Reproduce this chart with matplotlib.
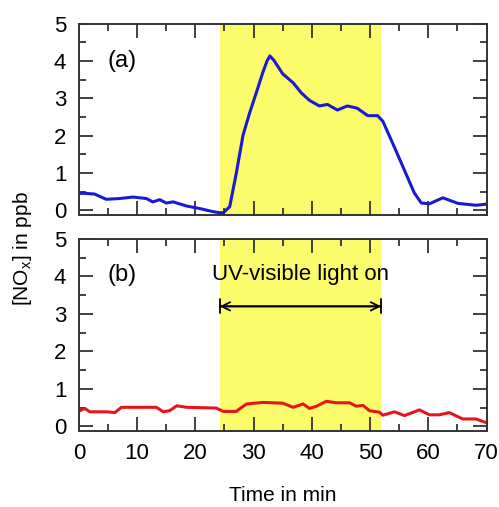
import numpy as np
import matplotlib.pyplot as plt
from matplotlib.ticker import MultipleLocator

plt.rcParams['font.family'] = ['Liberation Sans', 'DejaVu Sans']
plt.rcParams['mathtext.fontset'] = 'custom'
plt.rcParams['mathtext.rm'] = 'Liberation Sans'

# panel (a): NOx with cell
t_a = [0, 1, 2.7, 4.7, 7, 9.3, 11.6, 12.7, 13.9, 15, 16.2, 18.5, 20.8, 23, 24.2, 24.8,
       25.9, 27, 28.2, 29.3, 30.5, 31.6, 32.3, 32.8, 33.5, 35, 36.8, 38.2, 39.6, 41.3, 42.7,
       44.4, 46.1, 47.8, 49.6, 51.3, 52.2, 54.2, 55.9, 57.6, 58.8, 60.2, 62.5, 65.1, 68.2, 70]
no_a = [0.46, 0.46, 0.44, 0.3, 0.32, 0.36, 0.32, 0.23, 0.29, 0.2, 0.23, 0.12, 0.05, -0.03,
        -0.06, -0.06, 0.1, 0.97, 2.02, 2.6, 3.17, 3.7, 4.0, 4.14, 4.02, 3.66, 3.42, 3.15,
        2.95, 2.8, 2.84, 2.69, 2.8, 2.74, 2.54, 2.54, 2.39, 1.69, 1.08, 0.47, 0.2, 0.18,
        0.34, 0.19, 0.14, 0.17]

# panel (b): NOx without cell
t_b = [0, 0.2, 1, 1.9, 4.7, 6.2, 7.3, 9.3, 13.3, 14.5, 15.6, 16.8, 18.5, 23.6, 24.8, 27,
       28.8, 31.6, 35, 36.8, 38.5, 39.6, 40.8, 42.5, 44.2, 46.5, 47.6, 48.8, 49.9, 51.6,
       52.2, 54.2, 55.9, 58.5, 60.2, 61.9, 63.6, 65.9, 68.2, 69.6, 70]
no_b = [0.4, 0.42, 0.48, 0.39, 0.39, 0.37, 0.51, 0.51, 0.51, 0.39, 0.42, 0.55, 0.51, 0.49,
        0.4, 0.4, 0.6, 0.64, 0.62, 0.51, 0.6, 0.48, 0.54, 0.67, 0.63, 0.63, 0.54, 0.56, 0.42,
        0.38, 0.3, 0.39, 0.29, 0.44, 0.31, 0.31, 0.37, 0.2, 0.2, 0.12, 0.1]

light_on = 24.2
light_off = 51.9

fig = plt.figure(figsize=(4.99, 5.07), dpi=100)
ax1 = fig.add_axes([0.158, 0.576, 0.817, 0.377])
ax2 = fig.add_axes([0.158, 0.150, 0.817, 0.379])

for ax in (ax1, ax2):
    ax.axvspan(light_on, light_off, color='#fbfb6c', lw=0, zorder=0)
    ax.set_xlim(0, 70)
    ax.set_ylim(-0.12, 5)
    ax.xaxis.set_major_locator(MultipleLocator(10))
    ax.xaxis.set_minor_locator(MultipleLocator(5))
    ax.yaxis.set_major_locator(MultipleLocator(1))
    ax.yaxis.set_minor_locator(MultipleLocator(0.5))
    ax.tick_params(which='both', direction='in', top=True, right=True,
                   color='#333333', width=1.3, labelsize=16, pad=9)
    ax.tick_params(which='major', length=10)
    ax.tick_params(which='minor', length=5)
    for s in ax.spines.values():
        s.set_color('#333333')
        s.set_linewidth(1.4)

ax1.plot(t_a, no_a, color='#1a1ad2', lw=2.2)
ax1.tick_params(labelbottom=False)
ax1.text(4.9, 4.0, '(a)', fontsize=17, va='center')

ax2.plot(t_b, no_b, color='#e8141a', lw=2.2)
ax2.text(4.9, 4.04, '(b)', fontsize=17, va='center')
ax2.text((light_on + light_off) / 2, 4.04, 'UV-visible light on', fontsize=16,
         ha='center', va='center')
ax2.annotate('', xy=(light_on, 3.2), xytext=(light_off, 3.2),
             arrowprops=dict(arrowstyle='|-|,widthA=0.5,widthB=0.5', color='black', lw=1.3,
                             shrinkA=0, shrinkB=0))
ax2.annotate('', xy=(light_on, 3.2), xytext=(light_off, 3.2),
             arrowprops=dict(arrowstyle='<->,head_length=0.6,head_width=0.3', color='black',
                             lw=1.3, shrinkA=0, shrinkB=0))

fig.text(0.045, 0.51, r'[NO$_\mathrm{x}$] in ppb', rotation=90, fontsize=15,
         ha='center', va='center')
fig.text(0.567, 0.022, 'Time in min', fontsize=15, ha='center', va='center')

fig.savefig('out.png', dpi=100)
